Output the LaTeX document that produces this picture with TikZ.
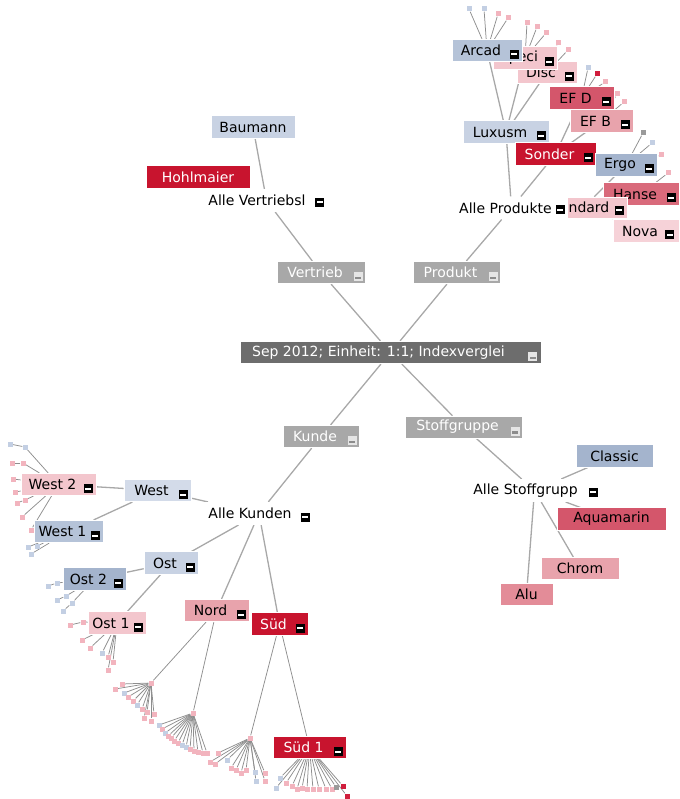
\documentclass[tikz,border=0pt]{standalone}
\usepackage{fontspec}
\setmainfont{DejaVu Sans}
\pgfdeclarelayer{bg}
\pgfsetlayers{bg,main}
\definecolor{cDark}{HTML}{6D6D6D}
\definecolor{cGray}{HTML}{A8A8A8}
\definecolor{cLine}{HTML}{A8A8A8}
\definecolor{cFan}{HTML}{8E8E8E}
\definecolor{bLight}{HTML}{C8D2E3}
\definecolor{bPale}{HTML}{D3DBE9}
\definecolor{bMid}{HTML}{B5C3D8}
\definecolor{bDark}{HTML}{A4B4CD}
\definecolor{rDeep}{HTML}{C8142E}
\definecolor{rMid}{HTML}{D4566B}
\definecolor{rHanse}{HTML}{D96A7B}
\definecolor{pMid}{HTML}{E8A3AC}
\definecolor{pAlu}{HTML}{E38C98}
\definecolor{pLight}{HTML}{F3C6CD}
\definecolor{pPale}{HTML}{F6D2D8}
\definecolor{lp}{HTML}{F2B4BE}
\definecolor{lb}{HTML}{C3CFE3}
\definecolor{lr}{HTML}{D01E3C}
\definecolor{lg}{HTML}{9A9A9A}
\newcommand\dgfont{\fontsize{14}{16}\selectfont}
\newcommand\gap[1]{\hspace{#1}\mbox{}}
\tikzset{
 box/.style={rectangle, minimum height=22.5pt, inner sep=0pt, font=\dgfont, text=black, draw=white, line width=0.6pt},
 gbox/.style={box, fill=cGray, text=white},
 plainbox/.style={box, fill=white, draw=none},
 iconb/.style={rectangle, fill=black, minimum size=9pt, inner sep=0pt, path picture={\fill[white] ([xshift=-3pt,yshift=-1pt]path picture bounding box.center) rectangle ([xshift=3pt,yshift=1pt]path picture bounding box.center);}},
 icong/.style={rectangle, fill=black!10, minimum size=9pt, inner sep=0pt, path picture={\fill[black!45] ([xshift=-3pt,yshift=-2.5pt]path picture bounding box.center) rectangle ([xshift=3pt,yshift=0pt]path picture bounding box.center);}},
 leafdot/.style={rectangle, minimum size=5pt, inner sep=0pt},
 conn/.style={draw=cLine, line width=1.3pt},
 fanline/.style={draw=cFan, line width=0.75pt},
}
\begin{document}
\begin{tikzpicture}[x=1pt,y=-1pt]
\useasboundingbox (0,0) rectangle (679,799);

% ---- centre and first level
\node[box, fill=cDark, text=white, minimum width=301pt] (root) at (390.5,352.5) {Sep 2012; Einheit: 1:1; Indexverglei\gap{24pt}};
\node[icong] (root-i) at ([xshift=-8.5pt,yshift=-4pt]root.east) {};
\node[gbox, minimum width=88pt] (vertrieb) at (321,272.5) {Vertrieb\gap{12pt}};
\node[icong] (vertrieb-i) at ([xshift=-7pt,yshift=-4pt]vertrieb.east) {};
\node[gbox, minimum width=87pt] (produkt) at (456.5,272.5) {Produkt\gap{12pt}};
\node[icong] (produkt-i) at ([xshift=-7pt,yshift=-4pt]produkt.east) {};
\node[gbox, minimum width=76pt] (kunde) at (321,436.5) {Kunde\gap{12pt}};
\node[icong] (kunde-i) at ([xshift=-7pt,yshift=-4pt]kunde.east) {};
\node[gbox, minimum width=117pt, minimum height=22pt] (stoff) at (463.5,427) {Stoffgruppe\gap{12pt}};
\node[icong] (stoff-i) at ([xshift=-7pt,yshift=-4pt]stoff.east) {};

% ---- Vertrieb branch
\node[plainbox, minimum width=127pt] (allevert) at (266.5,200.5) {Alle Vertriebsl\gap{19pt}};
\node[iconb] (allevert-i) at (319.5,202.5) {};
\node[box, fill=bLight, minimum width=84pt] (baumann) at (253,127) {Baumann};
\node[box, fill=rDeep, text=white, minimum width=104pt] (hohl) at (198,177) {Hohlmaier};

% ---- Produkt branch
\node[box, fill=pLight, minimum width=60pt] (disc) at (547,72.5) {Disc\gap{12pt}};
\node[iconb] (disc-i) at ([xshift=-8pt,yshift=-4pt]disc.east) {};
\node[box, fill=pLight, minimum width=64pt] (speci) at (525,58) {Speci\gap{12pt}};
\node[iconb] (speci-i) at ([xshift=-8pt,yshift=-4pt]speci.east) {};
\node[box, fill=bMid, minimum width=70pt] (arcad) at (487,50.5) {Arcad\gap{12pt}};
\node[iconb] (arcad-i) at ([xshift=-8pt,yshift=-4pt]arcad.east) {};
\node[box, fill=bLight, minimum width=86pt] (luxusm) at (506,132) {Luxusm\gap{12pt}};
\node[iconb] (luxusm-i) at ([xshift=-8pt,yshift=-4pt]luxusm.east) {};
\node[box, fill=rMid, minimum width=65pt] (efd) at (581.5,98) {EF D\gap{12pt}};
\node[iconb] (efd-i) at ([xshift=-8pt,yshift=-4pt]efd.east) {};
\node[box, fill=pMid, minimum width=63pt] (efb) at (601.5,121) {EF B\gap{12pt}};
\node[iconb] (efb-i) at ([xshift=-8pt,yshift=-4pt]efb.east) {};
\node[box, fill=rDeep, text=white, minimum width=81pt] (sonder) at (555.5,154) {Sonder\gap{12pt}};
\node[iconb] (sonder-i) at ([xshift=-8pt,yshift=-4pt]sonder.east) {};
\node[box, fill=bDark, minimum width=62pt] (ergo) at (626,165) {Ergo\gap{12pt}};
\node[iconb] (ergo-i) at ([xshift=-8pt,yshift=-4pt]ergo.east) {};
\node[box, fill=rHanse, minimum width=76pt] (hanse) at (641,194) {Hanse\gap{12pt}};
\node[iconb] (hanse-i) at ([xshift=-8pt,yshift=-4pt]hanse.east) {};
\node[box, fill=pLight, minimum width=87pt, minimum height=21pt] (standard) at (583.5,207.5) {Standard\gap{12pt}};
\node[iconb] (standard-i) at ([xshift=-8pt,yshift=-3pt]standard.east) {};
\node[box, fill=pPale, minimum width=66pt] (nova) at (646,231) {Nova\gap{12pt}};
\node[iconb] (nova-i) at ([xshift=-9.5pt,yshift=-4pt]nova.east) {};
\node[plainbox, minimum width=113pt] (alleprod) at (511.5,208) {Alle Produkte\gap{12pt}};
\node[iconb] (alleprod-i) at (560,210) {};

% ---- Kunde branch
\node[plainbox, minimum width=114pt] (allekund) at (259,513.5) {Alle Kunden\gap{18pt}};
\node[iconb] (allekund-i) at (305,517) {};
\node[box, fill=bPale, minimum width=67pt] (west) at (157.5,490.5) {West\gap{12pt}};
\node[iconb] (west-i) at ([xshift=-8pt,yshift=-4pt]west.east) {};
\node[box, fill=pLight, minimum width=75pt] (west2) at (58.5,484.5) {West 2\gap{12pt}};
\node[iconb] (west2-i) at ([xshift=-8pt,yshift=-4pt]west2.east) {};
\node[box, fill=bMid, minimum width=69pt] (west1) at (68.5,531.5) {West 1\gap{12pt}};
\node[iconb] (west1-i) at ([xshift=-8pt,yshift=-4pt]west1.east) {};
\node[box, fill=bLight, minimum width=54pt] (ost) at (171,563) {Ost\gap{12pt}};
\node[iconb] (ost-i) at ([xshift=-8pt,yshift=-4pt]ost.east) {};
\node[box, fill=bDark, minimum width=63pt] (ost2) at (94.5,579) {Ost 2\gap{12pt}};
\node[iconb] (ost2-i) at ([xshift=-8pt,yshift=-4pt]ost2.east) {};
\node[box, fill=pLight, minimum width=58pt] (ost1) at (117,623) {Ost 1\gap{12pt}};
\node[iconb] (ost1-i) at ([xshift=-8pt,yshift=-4pt]ost1.east) {};
\node[box, fill=pMid, minimum width=65pt] (nord) at (216.5,610.5) {Nord\gap{12pt}};
\node[iconb] (nord-i) at ([xshift=-8pt,yshift=-4pt]nord.east) {};
\node[box, fill=rDeep, text=white, minimum width=57pt] (sued) at (279.5,624) {Süd\gap{12pt}};
\node[iconb] (sued-i) at ([xshift=-8pt,yshift=-4pt]sued.east) {};
\node[box, fill=rDeep, text=white, minimum width=73pt] (sued1) at (309.5,747.5) {Süd 1\gap{12pt}};
\node[iconb] (sued1-i) at ([xshift=-8pt,yshift=-4pt]sued1.east) {};

% ---- Stoffgruppe branch
\node[plainbox, minimum width=135pt] (allestoff) at (534.5,490.5) {Alle Stoffgrupp\gap{18pt}};
\node[iconb] (allestoff-i) at (593,492) {};
\node[box, fill=bDark, minimum width=77pt] (classic) at (614.5,456) {Classic};
\node[box, fill=rMid, minimum width=109pt] (aqua) at (611.5,519) {Aquamarin};
\node[box, fill=pMid, minimum width=78pt] (chrom) at (580,568.5) {Chrom};
\node[box, fill=pAlu, minimum width=53pt] (alu) at (526.5,594.5) {Alu};

% ---- connectors between labelled nodes
\begin{pgfonlayer}{bg}
\draw[conn] (vertrieb) -- (root);
\draw[conn] (produkt) -- (root);
\draw[conn] (kunde) -- (root);
\draw[conn] (stoff) -- (root);
\draw[conn] (vertrieb) -- (allevert);
\draw[conn] (allevert) -- (baumann);
\draw[conn] (allevert) -- (hohl);
\draw[conn] (produkt) -- (alleprod);
\draw[conn] (alleprod) -- (luxusm);
\draw[conn] (alleprod) -- (sonder);
\draw[conn] (alleprod) -- (standard);
\draw[conn] (luxusm) -- (arcad);
\draw[conn] (luxusm) -- (speci);
\draw[conn] (luxusm) -- (disc);
\draw[conn] (sonder) -- (efd);
\draw[conn] (sonder) -- (efb);
\draw[conn] (standard) -- (ergo);
\draw[conn] (standard) -- (hanse);
\draw[conn] (standard) -- (nova);
\draw[conn] (kunde) -- (allekund);
\draw[conn] (allekund) -- (west);
\draw[conn] (allekund) -- (ost);
\draw[conn] (allekund) -- (nord);
\draw[conn] (allekund) -- (sued);
\draw[conn] (west) -- (west2);
\draw[conn] (west) -- (west1);
\draw[conn] (ost) -- (ost2);
\draw[conn] (ost) -- (ost1);
\draw[conn] (stoff) -- (allestoff);
\draw[conn] (allestoff) -- (classic);
\draw[conn] (allestoff) -- (aqua);
\draw[conn] (allestoff) -- (chrom);
\draw[conn] (allestoff) -- (alu);
\end{pgfonlayer}

% ---- hubs
\node[leafdot, fill=lp] (nh1) at (151,683) {};
\node[leafdot, fill=lp] (nh2) at (193,713) {};
\node[leafdot, fill=lp] (sh1) at (250,738) {};
\begin{pgfonlayer}{bg}
\draw[fanline] (nord) -- (nh1);
\draw[fanline] (nord) -- (nh2);
\draw[fanline] (sued) -- (sh1);
\draw[fanline] (sued) -- (sued1);
\end{pgfonlayer}

% ---- leaf fans (parent/list)
\foreach \pn/\lst in {
 arcad/{469/9/lb,484/9/lb,498/14/lp,508/18/lp},
 speci/{527/23/lp,537/27/lp,546/33/lp},
 disc/{558/43/lp,568/50/lp},
 efd/{588/68/lb,597/74/lr,605/82/lp},
 efb/{617/94/lp,624/102/lp},
 ergo/{643/133/lg,652/143/lb,661/155/lp},
 hanse/{668/173/lp},
 west2/{13/479/lp,15/492/lp,22/517/lp,31/530/lp},
 west1/{28/547/lb,31/554/lb,37/546/lb},
 ost1/{82/640/lp,90/648/lp,102/653/lb,108/657/lp,113/662/lp,108/670/lp},
 nh1/{115/689/lp,122/684/lp,124/693/lb,128/697/lp,133/701/lp,137/705/lb,142/709/lp,147/712/lp,144/718/lp,151/721/lp,154/714/lp},
 nh2/{159/725/lb,162/729/lp,165/733/lb,168/736/lp,171/738/lp,174/741/lp,178/743/lp,182/745/lb,186/747/lb,190/749/lp,194/751/lp,198/752/lp,203/753/lp,207/753/lp},
 sh1/{218/753/lp,210/762/lp,215/764/lp,227/760/lb,231/768/lp,236/770/lp,241/773/lp,246/770/lp,255/772/lb,256/781/lb,265/773/lp,265/781/lp},
 sued1/{280/778/lb,276/788/lb,286/783/lp,292/786/lp,297/789/lp,302/788/lp,307/789/lp,313/789/lp,319/789/lp,326/789/lp,332/789/lp,336/787/lg,343/786/lr,347/796/lr}}
{
 \foreach \px/\py/\pc [count=\k] in \lst {
  \node[leafdot, fill=\pc] (\pn-\k) at (\px,\py) {};
  \begin{pgfonlayer}{bg}\draw[fanline] (\pn) -- (\pn-\k);\end{pgfonlayer}
 }
}

% ---- two-level leaves
\foreach \pn/\mx/\my/\mc/\ex/\ey/\ec [count=\k] in {
 west2/25/447/lb/10/444/lb,
 west2/23/463/lp/12/463/lp,
 west2/25/500/lp/17/503/lp,
 ost2/57/583/lb/48/586/lb,
 ost2/66/596/lb/57/600/lb,
 ost2/72/603/lb/63/611/lb,
 ost1/83/622/lp/70/625/lp}
{
 \node[leafdot, fill=\mc] (m-\k) at (\mx,\my) {};
 \node[leafdot, fill=\ec] (e-\k) at (\ex,\ey) {};
 \begin{pgfonlayer}{bg}
 \draw[fanline] (\pn) -- (m-\k);
 \draw[fanline] (m-\k) -- (e-\k);
 \end{pgfonlayer}
}
\end{tikzpicture}
\end{document}
